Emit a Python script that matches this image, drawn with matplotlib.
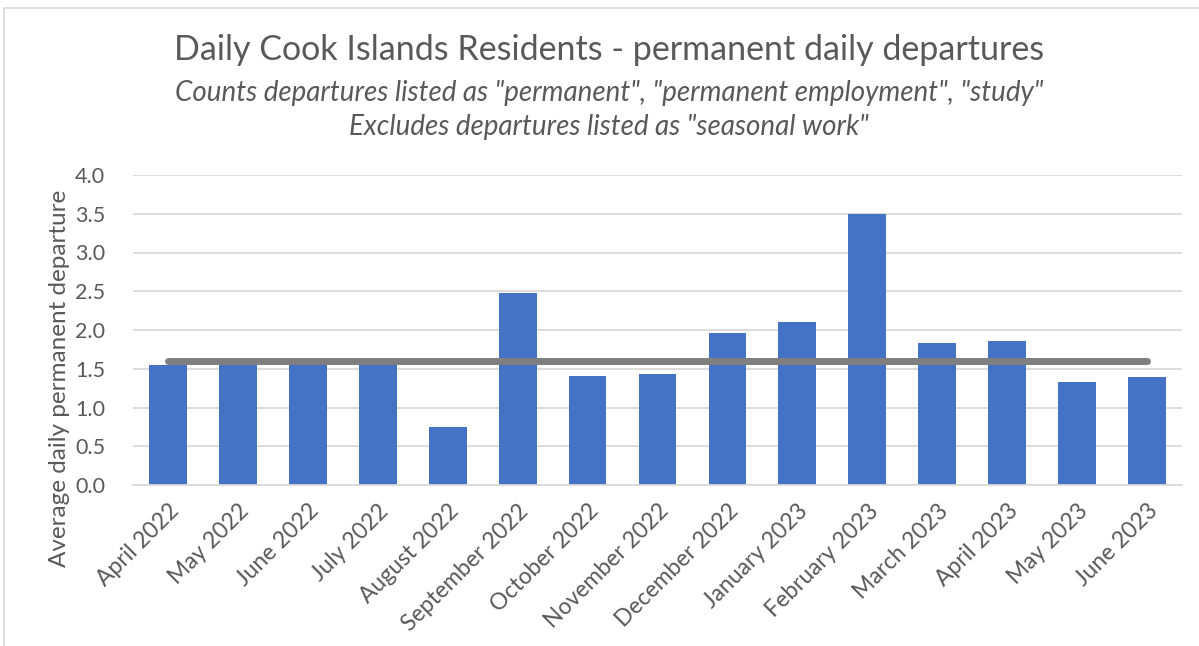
import matplotlib
matplotlib.use("Agg")
import matplotlib.pyplot as plt
from matplotlib.patches import Rectangle

categories = ["April 2022", "May 2022", "June 2022", "July 2022", "August 2022",
              "September 2022", "October 2022", "November 2022", "December 2022",
              "January 2023", "February 2023", "March 2023", "April 2023",
              "May 2023", "June 2023"]
values = [1.55, 1.55, 1.57, 1.57, 0.75, 2.48, 1.41, 1.43, 1.96, 2.10, 3.50,
          1.83, 1.86, 1.33, 1.39]
average = [1.6] * len(categories)
yticks = [0.0, 0.5, 1.0, 1.5, 2.0, 2.5, 3.0, 3.5, 4.0]

FONT = ["Lato", "DejaVu Sans"]
GREY = "#595959"

fig = plt.figure(figsize=(11.99, 6.46), dpi=100)
ax = fig.add_axes([133/1199, 1 - 485/646, (1182 - 133)/1199, (485 - 175)/646])

x = list(range(len(categories)))
ax.bar(x, values, width=0.54, color="#4472C4", zorder=2)
ax.plot(x, average, color="#7F7F7F", lw=5, solid_capstyle="round", zorder=3)

ax.set_xlim(-0.5, len(categories) - 0.5)
ax.set_ylim(0, 4.0)
ax.set_yticks(yticks)
ax.set_yticklabels([f"{t:.1f}" for t in yticks], fontsize=15.5, color=GREY, family=FONT)
ax.set_xticks(x)
ax.set_xticklabels(categories, rotation=45, ha="right", va="top",
                   rotation_mode="anchor", fontsize=16.5, color=GREY, family=FONT)
ax.tick_params(axis="y", length=0, pad=20)
ax.tick_params(axis="x", length=0, pad=11)
ax.grid(axis="y", color="#D9D9D9", lw=1.3, zorder=0)
for s in ["top", "right", "left"]:
    ax.spines[s].set_visible(False)
ax.spines["bottom"].set_color("#D9D9D9")
ax.spines["bottom"].set_linewidth(1.3)

fig.text(60/1199, 1 - 378/646, "Average daily permanent departure", rotation=90,
         ha="center", va="center", fontsize=17.5, color=GREY, family=FONT)

fig.text(609/1199, 1 - 50/646, "Daily Cook Islands Residents - permanent daily departures",
         ha="center", va="center", fontsize=24.5, color=GREY, family=FONT)
fig.text(609/1199, 1 - 93/646, 'Counts departures listed as "permanent", "permanent employment", "study"',
         ha="center", va="center", fontsize=20, color=GREY, family=FONT, style="italic")
fig.text(609/1199, 1 - 127/646, 'Excludes departures listed as "seasonal work"',
         ha="center", va="center", fontsize=20, color=GREY, family=FONT, style="italic")

fig.patches.append(Rectangle((4/1199, -0.05), 1.2, 1 - 8/646 + 0.05, transform=fig.transFigure,
                             fill=False, edgecolor="#D9D9D9", lw=1.2))

fig.savefig("out.png", dpi=100)
